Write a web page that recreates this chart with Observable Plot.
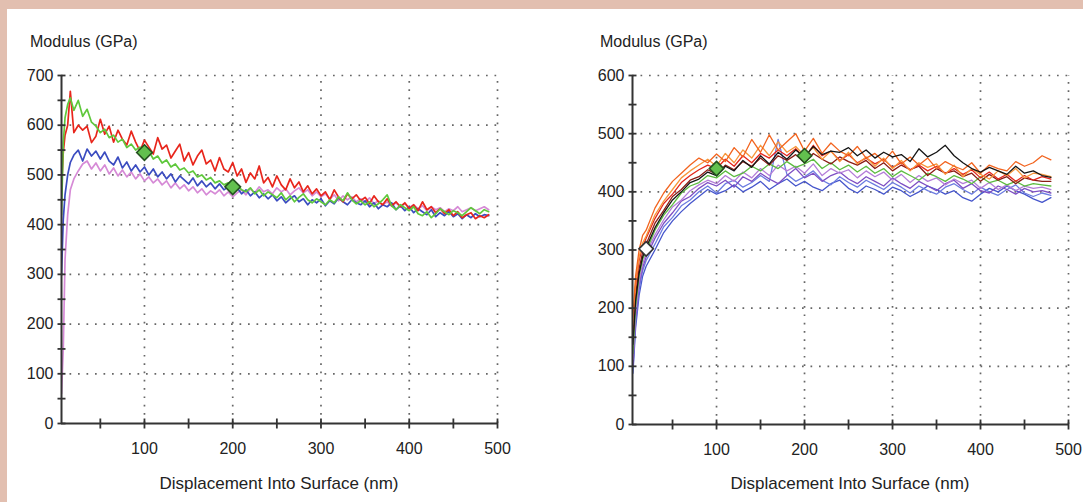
<!DOCTYPE html>
<html><head><meta charset="utf-8">
<script src="https://cdn.jsdelivr.net/npm/d3@7"></script>
<script src="https://cdn.jsdelivr.net/npm/@observablehq/plot@0.6"></script>
<style>
html,body{margin:0;padding:0;width:1083px;height:502px;overflow:hidden;background:#e2bfb0;}
#panel{position:absolute;left:7px;top:9px;width:1076px;height:493px;background:#fff;}
.chart{position:absolute;top:0;}
.ttl{position:absolute;font-family:"Liberation Sans",Arial,sans-serif;color:#222;white-space:nowrap;line-height:1;}
</style></head><body>
<div id="panel"></div>
<div id="c1" class="chart" style="left:0px"></div>
<div id="c2" class="chart" style="left:541px"></div>
<div class="ttl" style="left:30px;top:34px;font-size:16px">Modulus (GPa)</div>
<div class="ttl" style="left:600px;top:34px;font-size:16px">Modulus (GPa)</div>
<div class="ttl" style="left:79px;width:400px;text-align:center;top:475px;font-size:17px">Displacement Into Surface (nm)</div>
<div class="ttl" style="left:650px;width:400px;text-align:center;top:475px;font-size:17px">Displacement Into Surface (nm)</div>
<script>
// ---------- LEFT CHART DATA ----------
const depthLeft = [
  6,8,10,13,16,20,25,30,35,40,
  45,50,55,60,65,70,75,80,85,90,
  95,100,105,110,115,120,125,130,135,140,
  145,150,155,160,165,170,175,180,185,190,
  195,200,205,210,215,220,225,230,235,240,
  245,250,255,260,265,270,275,280,285,290,
  295,300,305,310,315,320,325,330,335,340,
  345,350,355,360,365,370,375,380,385,390,
  395,400,405,410,415,420,425,430,435,440,
  445,450,455,460,465,470,475,480,485,490];
const redLeft = [
  470,545,580,600,668,585,600,590,598,565,
  578,612,582,598,566,590,572,560,588,566,
  548,570,556,542,575,552,560,534,548,562,
  528,545,520,538,550,522,530,508,535,512,
  506,525,498,512,485,504,492,518,484,495,
  476,498,480,470,492,474,486,466,478,462,
  472,458,466,450,470,455,446,462,452,460,
  448,455,442,458,446,440,452,438,446,436,
  444,432,440,428,446,430,436,424,432,422,
  430,418,426,414,420,424,412,418,414,420];
const greenLeft = [
  420,565,615,642,655,630,650,618,632,606,
  598,585,592,575,580,566,572,555,562,550,
  556,540,548,532,538,524,530,516,522,510,
  514,504,508,496,500,490,495,484,488,480,
  484,474,480,470,466,474,462,470,458,466,
  460,454,464,450,458,446,455,462,450,444,
  452,446,440,450,444,456,448,464,450,442,
  448,440,446,436,442,450,460,438,430,440,
  434,428,436,422,418,426,414,422,432,426,
  420,428,424,418,426,434,428,422,430,426];
const blueLeft = [
  300,410,460,500,525,540,550,528,552,538,
  548,532,546,528,520,536,514,526,508,520,
  506,516,500,512,496,506,492,502,486,498,
  490,482,494,478,488,476,484,472,482,470,
  476,466,474,462,470,458,466,454,462,452,
  460,448,456,444,452,458,446,452,440,450,
  444,452,438,448,442,454,446,440,450,444,
  440,448,436,444,432,440,436,444,430,438,
  428,436,424,432,426,420,430,416,424,418,
  426,416,422,412,420,414,422,416,420,418];
const pinkLeft = [
  60,150,330,420,470,492,508,522,528,512,
  524,508,520,502,514,498,510,496,506,492,
  502,488,496,484,492,480,488,474,484,472,
  480,468,476,464,472,460,468,462,470,458,
  466,456,464,470,460,472,464,476,466,470,
  462,474,466,472,460,468,474,464,470,458,
  466,456,462,452,460,448,458,450,456,446,
  452,446,454,442,448,440,446,438,444,436,
  442,434,440,432,438,428,436,430,434,426,
  432,428,436,426,430,434,428,432,436,430];
const markerXLeft = [100, 200];
const markerYLeft = [545, 476];

// ---------- RIGHT CHART DATA ----------
const depthRight = [
  5,8,12,16,20,30,40,50,60,70,
  80,90,100,110,120,130,140,150,160,170,
  180,190,200,210,220,230,240,250,260,270,
  280,290,300,310,320,330,340,350,360,370,
  380,390,400,410,420,430,440,450,460,470,
  480];
const blueR = [
  88,165,222,255,272,300,330,350,366,380,
  392,404,396,402,412,400,408,418,404,414,
  422,410,418,408,402,414,420,406,398,410,
  404,396,408,402,392,400,410,404,396,402,
  390,384,396,406,400,410,402,396,388,382,
  390];
const blue2R = [
  94,175,232,264,282,310,340,356,376,386,
  400,410,398,414,420,408,416,428,418,490,
  430,418,426,436,420,412,426,416,408,420,
  412,404,416,408,398,410,402,396,408,414,
  404,396,408,400,394,404,412,398,392,398,
  394];
const purpleR = [
  100,182,240,270,288,320,346,364,384,392,
  406,416,410,420,408,426,418,432,422,414,
  428,440,424,432,418,428,434,422,414,426,
  418,410,424,414,406,418,410,402,414,420,
  406,414,402,398,410,404,396,406,400,402,
  398];
const violetR = [
  112,192,246,276,294,326,352,374,386,402,
  412,420,414,428,418,434,424,440,428,446,
  436,444,432,448,428,440,432,438,424,436,
  426,434,420,430,416,428,418,424,412,422,
  414,420,406,416,404,412,402,410,406,408,
  404];
const greenR = [
  122,202,256,284,298,334,360,378,398,410,
  416,428,424,436,426,432,444,436,448,440,
  452,442,448,456,440,450,438,446,434,444,
  432,440,426,436,428,420,432,426,418,428,
  422,414,426,416,420,412,418,410,414,412,
  410];
const darkRedR = [
  148,222,268,296,310,346,368,392,404,420,
  426,438,430,446,438,452,444,458,446,462,
  454,464,450,466,456,448,460,452,446,454,
  440,450,436,446,438,444,428,440,432,436,
  426,432,418,430,420,426,414,424,420,418,
  418];
const redR = [
  162,238,282,306,320,354,380,396,416,428,
  438,446,440,456,444,462,450,466,458,472,
  462,474,458,480,462,470,454,464,450,458,
  448,456,442,450,438,446,436,444,432,440,
  430,438,424,434,422,430,418,428,420,426,
  422];
const lightOrangeR = [
  172,242,288,312,324,360,384,404,424,436,
  446,456,444,466,450,472,458,480,462,486,
  468,478,462,476,456,470,452,468,448,460,
  444,458,440,454,436,450,442,448,430,446,
  426,440,430,422,436,428,440,424,432,430,
  426];
const orangeR = [
  185,255,300,325,334,372,398,418,432,446,
  458,450,465,452,476,460,490,468,498,472,
  486,500,470,492,466,484,470,462,478,458,
  466,452,470,448,460,446,458,440,452,444,
  438,450,432,446,440,436,452,444,450,462,
  455];
const blackR = [
  138,212,260,288,304,338,364,386,400,416,
  422,434,428,444,436,454,442,462,448,468,
  456,472,460,478,464,470,468,476,462,472,
  458,468,460,464,452,474,460,468,480,462,
  450,440,434,442,436,430,444,432,436,428,
  425];
const markerXRight = [20, 100, 200];
const markerYRight = [302, 440, 462];

// ---------- TICKS ----------
const yTicksLeft = [0,100,200,300,400,500,600,700];
const yMinorLeft = [50,150,250,350,450,550,650];
const yTicksRight = [0,100,200,300,400,500,600];
const yMinorRight = [50,150,250,350,450,550];
const xTicks = [100,200,300,400,500];
const xMinor = [50,150,250,350,450];

// ---------- STYLES ----------
const FONT = "'Liberation Sans', Arial, sans-serif";
const AX = "#333";
const hTick = {draw(ctx){ ctx.moveTo(-4,0); ctx.lineTo(4,0); }};
const vTick = {draw(ctx){ ctx.moveTo(0,-5); ctx.lineTo(0,5); }};

function chart(o) {
  const {depth, series, yTicks, yMinor, yMax, xMin, width, marginLeft, marginRight, marginBottom, markers, lineWidth, mr} = o;
  const marks = [
    Plot.ruleY(yTicks.filter(d => d > 0), {y: d => d, x1: () => xMin, x2: () => 500, stroke: "#666", strokeWidth: 1.7, strokeDasharray: "1.7,6.8"}),
    Plot.ruleX(xTicks, {x: d => d, y1: () => 0, y2: () => yMax, stroke: "#666", strokeWidth: 1.7, strokeDasharray: "1.7,6.6"})
  ];
  for (const s of series) {
    const rows = s.values.map((v, i) => ({x: depth[i], y: v}));
    marks.push(Plot.line(rows, {x: "x", y: "y", stroke: s.color, strokeWidth: lineWidth, clip: true}));
  }
  const mrows = markers.x.map((x, i) => ({x, y: markers.y[i], f: markers.fill[i], s: markers.stroke[i]}));
  marks.push(Plot.dot(mrows, {x: "x", y: "y", symbol: "diamond2", r: mr, fill: d => d.f, stroke: d => d.s, strokeWidth: 1.6}));
  marks.push(
    Plot.ruleX([xMin], {x: d => d, y1: () => 0, y2: () => yMax, stroke: AX, strokeWidth: 2}),
    Plot.ruleY([0], {y: d => d, x1: () => xMin, x2: () => 500, stroke: AX, strokeWidth: 2}),
    Plot.dot(yTicks.concat(yMinor), {x: () => xMin, y: d => d, symbol: hTick, fill: "none", stroke: AX, strokeWidth: 1.8}),
    Plot.dot(xTicks.concat(xMinor), {x: d => d, y: () => 0, symbol: vTick, fill: "none", stroke: AX, strokeWidth: 1.8}),
    Plot.axisY(yTicks, {tickSize: 0, tickPadding: 8, fontSize: 16, label: null, fill: "#222"}),
    Plot.axisX(xTicks, {tickSize: 0, tickPadding: 19, fontSize: 16, label: null, fill: "#222"})
  );
  return Plot.plot({
    width, height: 502, marginLeft, marginRight, marginTop: 75, marginBottom,
    style: {background: "transparent", fontFamily: FONT, fontSize: "16px", color: "#222", overflow: "visible"},
    x: {domain: [xMin, 500]},
    y: {domain: [0, yMax]},
    color: {type: "identity"},
    marks
  });
}

const GREEN_FILL = "#62c04e", GREEN_EDGE = "#24521f";

const left = chart({
  depth: depthLeft,
  series: [
    {values: pinkLeft, color: "#d68ad6"},
    {values: blueLeft, color: "#3b4cc0"},
    {values: redLeft, color: "#e8261c"},
    {values: greenLeft, color: "#5fc83c"}
  ],
  yTicks: yTicksLeft, yMinor: yMinorLeft, yMax: 700, xMin: 6,
  width: 541, marginLeft: 61, marginRight: 44, marginBottom: 79,
  markers: {x: markerXLeft, y: markerYLeft, fill: [GREEN_FILL, GREEN_FILL], stroke: [GREEN_EDGE, GREEN_EDGE]},
  lineWidth: 1.7, mr: 7
});
document.getElementById("c1").appendChild(left);

const right = chart({
  depth: depthRight,
  series: [
    {values: blueR, color: "#4656cc"},
    {values: blue2R, color: "#6c7ce0"},
    {values: purpleR, color: "#7e4fc4"},
    {values: violetR, color: "#b47ed8"},
    {values: greenR, color: "#5cbc40"},
    {values: darkRedR, color: "#8a1c14"},
    {values: redR, color: "#e3261c"},
    {values: lightOrangeR, color: "#f7963a"},
    {values: orangeR, color: "#f2641f"},
    {values: blackR, color: "#151515"}
  ],
  yTicks: yTicksRight, yMinor: yMinorRight, yMax: 600, xMin: 4.5,
  width: 542, marginLeft: 91, marginRight: 15, marginBottom: 78,
  markers: {x: markerXRight, y: markerYRight, fill: ["#ffffff", GREEN_FILL, GREEN_FILL], stroke: ["#333", GREEN_EDGE, GREEN_EDGE]},
  lineWidth: 1.3, mr: 6.5
});
document.getElementById("c2").appendChild(right);
</script>
</body></html>
